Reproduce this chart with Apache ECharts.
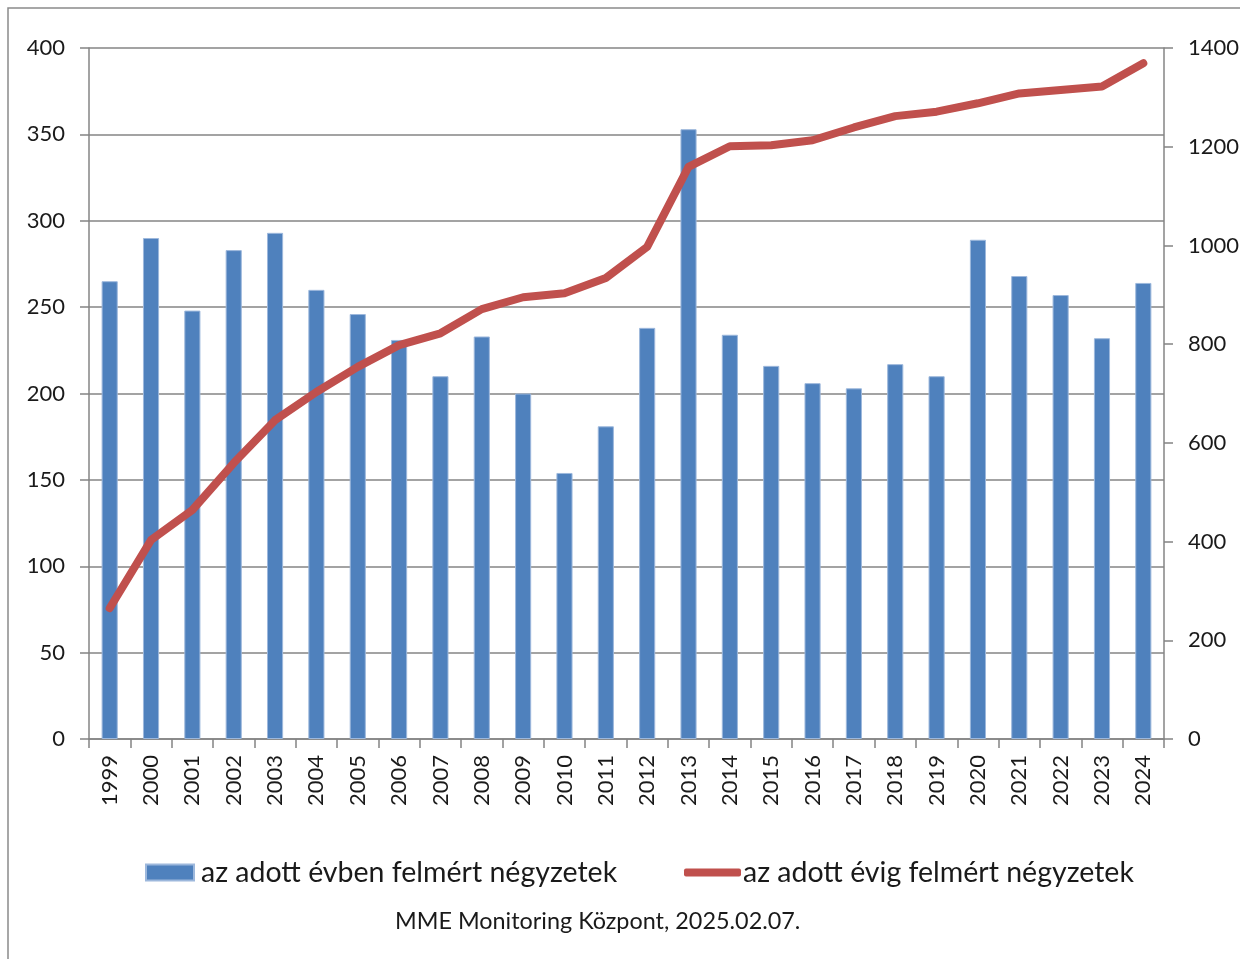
<!DOCTYPE html>
<html>
<head>
<meta charset="utf-8">
<script src="https://cdn.jsdelivr.net/npm/echarts@6/dist/echarts.min.js"></script>
<style>
html,body{margin:0;padding:0;background:#fff;}
#chart{width:1240px;height:959px;}
</style>
</head>
<body>
<div id="chart"></div>
<script>
const years = ['1999','2000','2001','2002','2003','2004','2005','2006','2007','2008','2009','2010','2011','2012','2013','2014','2015','2016','2017','2018','2019','2020','2021','2022','2023','2024'];
const yearlySquares = [265,290,248,283,293,260,246,231,210,233,200,154,181,238,353,234,216,206,203,217,210,289,268,257,232,264];
const cumulativeSquares = [265,403,464,559,646,703,754,798,822,871,895,903,934,997,1159,1201,1203,1213,1239,1262,1271,1288,1308,1315,1322,1369];
const barName = 'az adott évben felmért négyzetek';
const lineName = 'az adott évig felmért négyzetek';
const sourceText = 'MME Monitoring Központ, 2025.02.07.';

const FONT = 'Lato';
const gridColor = '#848484';
const chart = echarts.init(document.getElementById('chart'), null, {renderer:'canvas'});
chart.setOption({
  animation:false,
  backgroundColor:'#ffffff',
  textStyle:{fontFamily:FONT},
  grid:{left:89,right:76,top:48,bottom:220,containLabel:false,outerBoundsMode:'none'},
  legend:[
    {data:[{name:barName,icon:'rect'}],left:145,top:858,padding:0,itemWidth:48,itemHeight:16,itemGap:0,
     textStyle:{fontFamily:FONT,fontSize:28.5,color:'#1a1a1a',padding:[0,0,0,2]}},
    {data:[{name:lineName,icon:'roundRect'}],left:684,top:858,padding:0,itemWidth:57,itemHeight:8,itemGap:0,
     textStyle:{fontFamily:FONT,fontSize:28.5,color:'#1a1a1a',padding:[0,0,0,-3]}}
  ],
  xAxis:{
    type:'category',data:years,boundaryGap:true,
    axisLine:{lineStyle:{color:gridColor,width:1.5}},
    axisTick:{show:true,length:9,lineStyle:{color:gridColor,width:1.5}},
    axisLabel:{rotate:90,margin:16,fontFamily:FONT,fontSize:22,color:'#1a1a1a',interval:0}
  },
  yAxis:[
    {type:'value',min:0,max:400,interval:50,position:'left',
     axisLine:{show:true,lineStyle:{color:gridColor,width:1.5}},
     axisTick:{show:true,length:9,lineStyle:{color:gridColor,width:1.5}},
     splitLine:{show:true,lineStyle:{color:gridColor,width:1.5}},
     axisLabel:{margin:24,fontFamily:FONT,fontSize:22,color:'#1a1a1a'}},
    {type:'value',min:0,max:1400,interval:200,position:'right',
     axisLine:{show:true,lineStyle:{color:gridColor,width:1.5}},
     axisTick:{show:true,length:9,lineStyle:{color:gridColor,width:1.5}},
     splitLine:{show:false},
     axisLabel:{margin:24,fontFamily:FONT,fontSize:22,color:'#1a1a1a',formatter:function(v){return String(v);}}}
  ],
  series:[
    {name:barName,type:'bar',yAxisIndex:0,data:yearlySquares,barWidth:'39%',
     itemStyle:{color:'#4F81BD',borderColor:'#9db8dc',borderWidth:1}},
    {name:lineName,type:'line',yAxisIndex:1,data:cumulativeSquares,symbol:'none',
     lineStyle:{color:'#C0504D',width:8,cap:'round',join:'round'},itemStyle:{color:'#C0504D'}}
  ],
  graphic:[
    {type:'rect',shape:{x:8,y:8,width:1400,height:1200},style:{fill:null,stroke:'#8a8a8a',lineWidth:1.5},silent:true},
    {type:'text',left:395,top:910,style:{text:sourceText,font:'23.4px Lato',fill:'#1a1a1a'}}
  ]
});
</script>
</body>
</html>
